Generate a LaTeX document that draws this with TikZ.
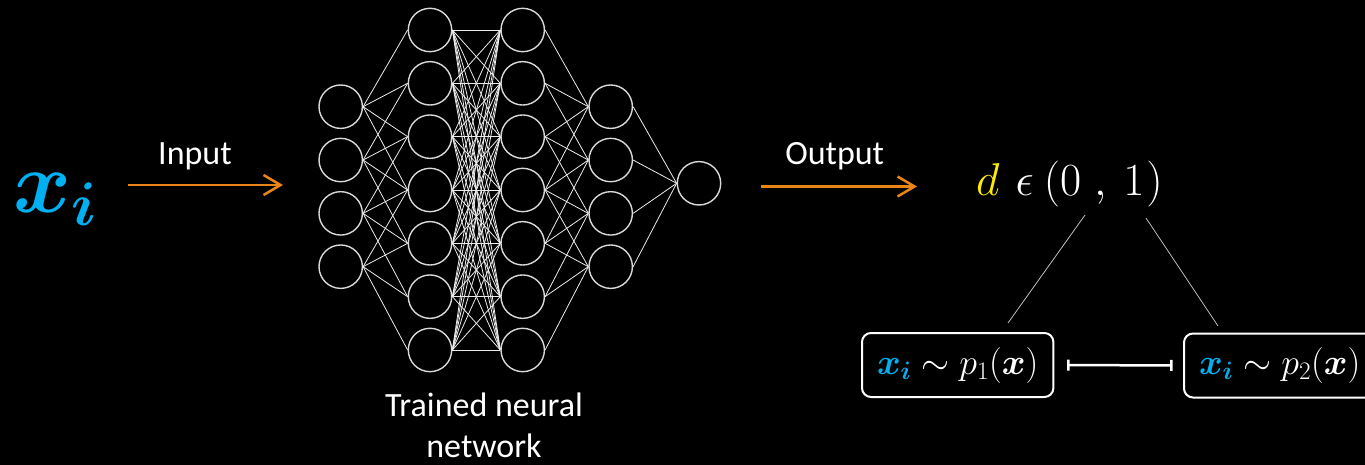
\RequirePackage{fix-cm}
\documentclass[tikz,border=0pt]{standalone}
\usepackage{amsmath}
\usepackage[no-math]{fontspec}
\setmainfont{Carlito}
\usetikzlibrary{arrows.meta,calc}
\definecolor{xblue}{RGB}{0,176,240}
\definecolor{arrorange}{RGB}{232,133,22}
\definecolor{dyellow}{RGB}{255,235,0}
\begin{document}
\begin{tikzpicture}[x=1pt,y=-1pt,
  neuron/.style={circle,draw=white!85!black,line width=1.4pt,minimum size=43.4pt,inner sep=0pt},
  syn/.style={white!92!black,line width=0.8pt},
  flow/.style={arrorange,line width=2.5pt,-{Straight Barb[length=17pt,width=20pt,line width=2.5pt]}},
  lbl/.style={text=white,font=\fontsize{34}{41}\selectfont,inner sep=0pt},
  pbox/.style={draw=white,line width=2pt,rounded corners=9pt,minimum height=64pt,inner xsep=15pt,text=white,font=\fontsize{36}{36}\selectfont},
  tie/.style={white!75!black,line width=0.8pt},
  link/.style={white,line width=2.5pt,{Bar[width=11pt,line width=2.5pt]}-{Bar[width=11pt,line width=2.5pt]}}
]
\fill[black] (0,0) rectangle (1365,465);
\useasboundingbox (0,0) rectangle (1365,465);

% neural network
\foreach \k in {0,...,3} \node[neuron] (a\k) at (340.7,{106.7+53.33*\k}) {};
\foreach \k in {0,...,6} \node[neuron] (b\k) at (430,{30+53.33*\k}) {};
\foreach \k in {0,...,6} \node[neuron] (c\k) at (522.7,{30+53.33*\k}) {};
\foreach \k in {0,...,3} \node[neuron] (d\k) at (610.7,{106.7+53.33*\k}) {};
\node[neuron] (e) at (699,183.3) {};

\foreach \j in {0,...,3} \foreach \m in {0,...,3} {\pgfmathtruncatemacro\t{\j+\m}\draw[syn] (a\j.east) -- (b\t.west);}
\foreach \j in {0,...,6} \foreach \t in {0,...,6} {\draw[syn] (b\j.east) -- (c\t.west);}
\foreach \j in {0,...,3} \foreach \m in {0,...,3} {\pgfmathtruncatemacro\t{\j+\m}\draw[syn] (c\t.east) -- (d\j.west);}
\foreach \j in {0,...,3} {\draw[syn] (d\j.east) -- (e.west);}

% input
\node[text=xblue,anchor=base west,inner sep=0pt] (xi) at (13,212) {\fontsize{88}{88}\selectfont$\boldsymbol{x}_{\boldsymbol{i}}$};
\coordinate (inS) at (128,185);
\coordinate (inE) at (283,185);
\draw[flow] (inS) -- (inE);
\node[lbl,anchor=base] (inl) at (195,165) {Input};

% output
\coordinate (outS) at (761,186.5);
\coordinate (outE) at (917,186.5);
\draw[flow] (outS) -- (outE);
\node[lbl,anchor=base] (outl) at (834.7,165) {Output};

\node[text=white,anchor=base west,inner sep=0pt] (dform) at (976,196) {\fontsize{46}{46}\selectfont$\textcolor{dyellow}{d}\hspace{16pt}\epsilon\hspace{10pt}(0\hspace{13pt},\hspace{9pt}1\hspace{2pt})$};

\node[lbl,align=center,anchor=base] (cap) at (484,457) {Trained neural\\network};

% boxes
\node[pbox,anchor=west] (p1) at (861,365) {$\textcolor{xblue}{\boldsymbol{x}_{\boldsymbol{i}}}\sim p_1(\boldsymbol{x})$};
\node[pbox,anchor=west] (p2) at (1183,365.5) {$\textcolor{xblue}{\boldsymbol{x}_{\boldsymbol{i}}}\sim p_2(\boldsymbol{x})$};

\coordinate (t1) at (1085,215);
\coordinate (t2) at (1008,323);
\coordinate (t3) at (1146,218);
\coordinate (t4) at (1218,326);
\draw[tie] (t1) -- (t2);
\draw[tie] (t3) -- (t4);

\draw[link] ([xshift=12.7pt]p1.east) -- ([xshift=-10.3pt]p2.west);
\end{tikzpicture}
\end{document}
